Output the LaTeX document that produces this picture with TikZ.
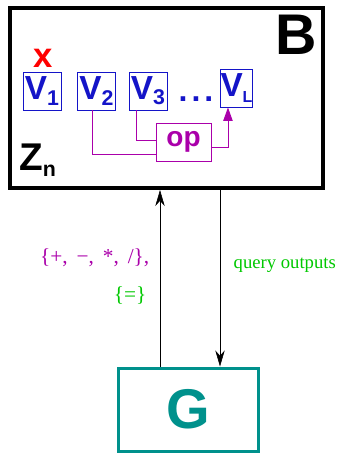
\documentclass[tikz,border=0pt]{standalone}
\usepackage{fontspec}
\setmainfont{Liberation Sans}
\newfontfamily\serfont{Liberation Serif}
\usetikzlibrary{arrows.meta}

\definecolor{vblue}{RGB}{20,20,200}
\definecolor{opmag}{RGB}{170,0,170}
\definecolor{qgreen}{RGB}{0,200,0}
\definecolor{gteal}{RGB}{0,145,140}

\newcommand{\vsub}[1]{\raisebox{-0.3ex}{\fontsize{16}{16}\selectfont #1}}

\tikzset{
  vbox/.style={draw=vblue, line width=0.7pt, text=vblue, inner sep=0pt,
    minimum width=28.5pt, minimum height=28.5pt,
    font=\fontsize{25}{25}\selectfont\bfseries},
  link/.style={draw=opmag, line width=0.7pt},
  lab/.style={font=\fontsize{16}{16}\selectfont\serfont},
}

\begin{document}
\begin{tikzpicture}[x=0.75pt,y=-0.75pt]
  \useasboundingbox (0,0) rectangle (338,453);

  % outer boxes
  \node[draw, line width=3pt, minimum width=234.75pt, minimum height=135pt] (B) at (166.5,98) {};
  \node[draw=gteal, line width=2.25pt, minimum width=105pt, minimum height=62.25pt,
        text=gteal, font=\fontsize{42}{42}\selectfont\bfseries] (G) at (188,409.5) {G};

  % box labels
  \node[font=\fontsize{43}{43}\selectfont\bfseries] (Blab) at (296,35) {B};
  \node[anchor=west, font=\fontsize{29}{29}\selectfont\bfseries, inner sep=0pt] (Zn) at (19,160) {Z\vsub{n}};

  % variables
  \node[vbox] (V1) at (42,91) {V\vsub{1}};
  \node[vbox] (V2) at (96.5,91) {V\vsub{2}};
  \node[vbox] (V3) at (148,91) {V\vsub{3}};
  \node[vbox, minimum width=23.25pt] (VL) at (236.5,88) {V\vsub{\fontsize{12}{12}\selectfont L}};
  \node[text=vblue, font=\fontsize{24}{24}\selectfont\bfseries, anchor=base] (dots) at (196,102) {.\hspace{3pt}.\hspace{3pt}.};
  \node[text=red, font=\fontsize{26}{26}\selectfont\bfseries] (cross) at (43,58) {x};

  % operation
  \node[draw=opmag, line width=0.7pt, text=opmag, minimum width=41.25pt, minimum height=28.5pt,
        inner sep=0pt, font=\fontsize{21}{21}\selectfont\bfseries] (op) at (183.5,142) {op};
  \draw[link] ([xshift=-3.4pt]V2.south) |- ([yshift=-9pt]op.west);
  \draw[link] ([xshift=-9pt]V3.south) |- ([yshift=1.5pt]op.west);
  \draw[link, -{Triangle[length=10pt,width=7pt]}] ([yshift=-3.75pt]op.east) -| ([xshift=-6.4pt]VL.south);

  % queries
  \draw[-{Stealth[length=12pt,width=7pt]}] ([xshift=-21pt]G.north) -- ([xshift=-21pt]G.north |- B.south);
  \draw[-{Stealth[length=12pt,width=7pt]}] ([xshift=24pt]G.north |- B.south) -- ([xshift=24pt]G.north);

  \node[lab, text=opmag, anchor=east] (ops) at (154,258) {\{+,\, −,\, *,\, /\},};
  \node[lab, text=qgreen, anchor=east] (eq) at (151,296) {\{=\}};
  \node[lab, text=qgreen, anchor=west, font=\fontsize{14}{14}\selectfont\serfont] (qout) at (229,265) {query outputs};

\end{tikzpicture}
\end{document}
